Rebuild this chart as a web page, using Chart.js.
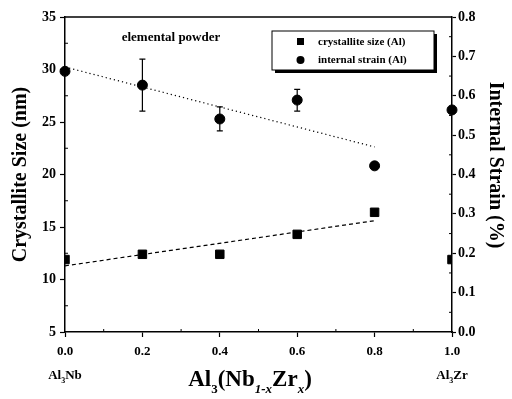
<!DOCTYPE html>
<html>
<head>
<meta charset="utf-8">
<script src="https://cdn.jsdelivr.net/npm/chart.js@4/dist/chart.umd.min.js"></script>
<style>
  html, body { margin: 0; padding: 0; background: #fff; }
  #wrap { width: 512px; height: 399px; }
</style>
</head>
<body>
<div id="wrap"><canvas id="chart1"></canvas></div>
<script>
// composition x in Al3(Nb1-xZrx)
const xValues = [0.0, 0.2, 0.4, 0.6, 0.8, 1.0]
// crystallite size of Al (nm), left axis
const sizeValues = [11.9, 12.4, 12.4, 14.3, 16.4, 11.9]
// internal strain of Al (%), right axis
const strainValues = [0.662, 0.627, 0.541, 0.589, 0.422, 0.564]
const strainErrLow = [null, 0.561, 0.511, 0.561, null, null]
const strainErrHigh = [null, 0.693, 0.572, 0.616, null, null]
// trend lines (end points)
const sizeFitX = [0.0, 0.8]
const sizeFitY = [11.3, 15.6]
const strainFitX = [0.0, 0.8]
const strainFitY = [0.673, 0.47]

const serif = '"Liberation Serif", "DejaVu Serif", serif'

const pts = (xs, ys) => xs.map((x, i) => ({x: x, y: ys[i]}))

//draws frame, error bars, titles and the legend box
const extras = {
    id: 'extras',
    afterDatasetsDraw(chart) {
        const ctx = chart.ctx
        const area = chart.chartArea
        const xs = chart.scales.x
        const ys2 = chart.scales.y2
        ctx.save()
        // error bars on strain
        ctx.strokeStyle = '#000'
        ctx.lineWidth = 1.2
        xValues.forEach((x, i) => {
            if (strainErrLow[i] == null) return
            const px = xs.getPixelForValue(x)
            const y1 = ys2.getPixelForValue(strainErrLow[i])
            const y2 = ys2.getPixelForValue(strainErrHigh[i])
            ctx.beginPath()
            ctx.moveTo(px, y1); ctx.lineTo(px, y2)
            ctx.moveTo(px - 3, y1); ctx.lineTo(px + 3, y1)
            ctx.moveTo(px - 3, y2); ctx.lineTo(px + 3, y2)
            ctx.stroke()
        })
        // top frame line
        ctx.lineWidth = 1.5
        ctx.beginPath()
        ctx.moveTo(area.left, area.top); ctx.lineTo(area.right, area.top)
        ctx.stroke()
        // minor ticks
        ctx.lineWidth = 1
        ctx.beginPath()
        for (let v = 0.1; v < 1; v += 0.2) {
            const px = xs.getPixelForValue(v)
            ctx.moveTo(px, area.bottom); ctx.lineTo(px, area.bottom - 3)
        }
        const ys = chart.scales.y
        for (let v = 7.5; v < 35; v += 5) {
            const py = ys.getPixelForValue(v)
            ctx.moveTo(area.left, py); ctx.lineTo(area.left + 3, py)
        }
        for (let v = 0.05; v < 0.8; v += 0.1) {
            const py = ys2.getPixelForValue(v)
            ctx.moveTo(area.right, py); ctx.lineTo(area.right - 3, py)
        }
        ctx.stroke()

        ctx.fillStyle = '#000'
        // annotation
        ctx.font = 'bold 13px ' + serif
        ctx.textAlign = 'center'
        ctx.textBaseline = 'middle'
        ctx.fillText('elemental powder', 171, 38)

        // legend box with shadow
        const lx = 272, ly = 31, lw = 162, lh = 39
        ctx.fillRect(lx + 3, ly + 3, lw, lh)
        ctx.fillStyle = '#fff'
        ctx.fillRect(lx, ly, lw, lh)
        ctx.strokeStyle = '#000'
        ctx.lineWidth = 1
        ctx.strokeRect(lx, ly, lw, lh)
        ctx.fillStyle = '#000'
        ctx.fillRect(297, 38, 7, 7)
        ctx.beginPath()
        ctx.arc(300.5, 60, 4, 0, Math.PI * 2)
        ctx.fill()
        ctx.font = 'bold 11px ' + serif
        ctx.textAlign = 'left'
        ctx.fillText('crystallite size (Al)', 318, 42)
        ctx.fillText('internal strain (Al)', 318, 60)

        // left title
        ctx.font = 'bold 20px ' + serif
        ctx.textAlign = 'center'
        ctx.save()
        ctx.translate(21, (area.top + area.bottom) / 2)
        ctx.rotate(-Math.PI / 2)
        ctx.fillText('Crystallite Size (nm)', 0, 0)
        ctx.restore()
        // right title
        ctx.save()
        ctx.translate(495, 165)
        ctx.rotate(Math.PI / 2)
        ctx.fillText('Internal Strain (%)', 0, 0)
        ctx.restore()

        // end member labels with subscripts
        const sub = (parts, x, y, big, small, shift) => {
            let w = 0
            parts.forEach(p => {
                ctx.font = (p.i ? 'italic ' : '') + 'bold ' + (p.s ? small : big) + 'px ' + serif
                w += ctx.measureText(p.t).width
            })
            let cx = x - w / 2
            ctx.textAlign = 'left'
            ctx.textBaseline = 'alphabetic'
            parts.forEach(p => {
                ctx.font = (p.i ? 'italic ' : '') + 'bold ' + (p.s ? small : big) + 'px ' + serif
                ctx.fillText(p.t, cx, p.s ? y + shift : y)
                cx += ctx.measureText(p.t).width
            })
        }
        sub([{t: 'Al'}, {t: '3', s: 1}, {t: 'Nb'}], xs.getPixelForValue(0), 379, 13, 8, 4)
        sub([{t: 'Al'}, {t: '3', s: 1}, {t: 'Zr'}], xs.getPixelForValue(1), 379, 13, 8, 4)
        sub([{t: 'Al'}, {t: '3', s: 1}, {t: '(Nb'}, {t: '1-x', s: 1, i: 1}, {t: 'Zr'}, {t: 'x', s: 1, i: 1}, {t: ')'}],
            250, 386, 23, 13, 7)
        ctx.restore()
    }
}

const config = {
    type: 'scatter',
    data: {
        datasets: [
            {
                label: 'size fit',
                type: 'line',
                data: pts(sizeFitX, sizeFitY),
                yAxisID: 'y',
                borderColor: '#000',
                borderWidth: 1.2,
                borderDash: [4, 3],
                pointRadius: 0,
                fill: false
            },
            {
                label: 'strain fit',
                type: 'line',
                data: pts(strainFitX, strainFitY),
                yAxisID: 'y2',
                borderColor: '#000',
                borderWidth: 1.2,
                borderDash: [1.2, 3],
                pointRadius: 0,
                fill: false
            },
            {
                label: 'crystallite size (Al)',
                data: pts(xValues, sizeValues),
                yAxisID: 'y',
                pointStyle: 'rect',
                pointRadius: 6,
                backgroundColor: '#000',
                borderColor: '#000',
                clip: 0
            },
            {
                label: 'internal strain (Al)',
                data: pts(xValues, strainValues),
                yAxisID: 'y2',
                pointStyle: 'circle',
                pointRadius: 5,
                backgroundColor: '#000',
                borderColor: '#000',
                clip: false
            }
        ]
    },
    options: {
        responsive: true,
        maintainAspectRatio: false,
        animation: false,
        layout: { padding: { top: 17, left: 0, right: 0, bottom: 0 } },
        plugins: { legend: { display: false }, tooltip: { enabled: false } },
        scales: {
            x: {
                type: 'linear',
                min: 0, max: 1,
                afterFit: s => { s.height = 67 },
                border: { color: '#000', width: 1.5 },
                grid: { drawOnChartArea: false, color: '#000', tickLength: 5, tickWidth: 1.2 },
                ticks: {
                    stepSize: 0.2,
                    padding: 7,
                    color: '#000',
                    font: { family: serif, size: 13, weight: 'bold' },
                    callback: v => v.toFixed(1)
                }
            },
            y: {
                position: 'left',
                min: 5, max: 35,
                afterFit: s => { s.width = 65 },
                border: { color: '#000', width: 1.5 },
                grid: { drawOnChartArea: false, color: '#000', tickLength: 5, tickWidth: 1.2 },
                ticks: {
                    stepSize: 5,
                    padding: 4,
                    color: '#000',
                    font: { family: serif, size: 14, weight: 'bold' }
                }
            },
            y2: {
                position: 'right',
                min: 0, max: 0.8,
                afterFit: s => { s.width = 60 },
                border: { color: '#000', width: 1.5 },
                grid: { drawOnChartArea: false, color: '#000', tickLength: 4, tickWidth: 1.2 },
                ticks: {
                    stepSize: 0.1,
                    padding: 2,
                    color: '#000',
                    font: { family: serif, size: 14, weight: 'bold' },
                    callback: v => v.toFixed(1)
                }
            }
        }
    },
    plugins: [extras]
}

new Chart(document.querySelector('#chart1'), config)
</script>
</body>
</html>
